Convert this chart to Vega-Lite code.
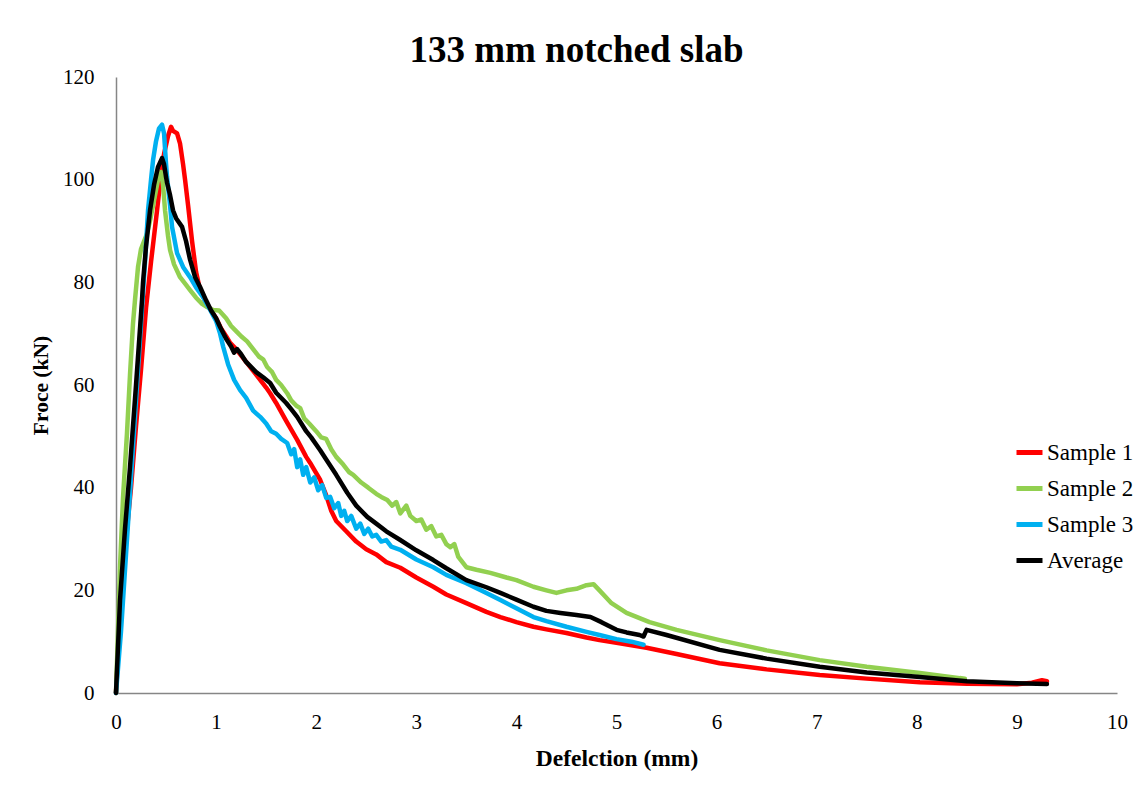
{
  "$schema": "https://vega.github.io/schema/vega-lite/v6.json",
  "width": 1001,
  "height": 616,
  "autosize": {"type": "none"},
  "padding": {"left": 116, "top": 77, "right": 25, "bottom": 98},
  "background": "white",
  "title": {
    "text": "133 mm notched slab",
    "font": "Liberation Serif",
    "fontSize": 37,
    "fontWeight": "bold",
    "color": "black",
    "anchor": "middle",
    "frame": "group",
    "dx": -40,
    "offset": -4
  },
  "config": {
    "view": {"stroke": null},
    "axis": {
      "labelFont": "Liberation Serif",
      "labelFontSize": 21,
      "labelColor": "black",
      "labelFlush": false,
      "titleFont": "Liberation Serif",
      "titleFontSize": 21.5,
      "titleFontWeight": "bold",
      "titleColor": "black",
      "ticks": false,
      "grid": false,
      "domainColor": "#868686",
      "domainWidth": 1.5
    },
    "legend": {
      "labelFont": "Liberation Serif",
      "labelFontSize": 23,
      "labelColor": "black"
    }
  },
  "datasets": {
    "curves": [
      {"series": "Sample 1", "d": 0, "f": 0},
      {"series": "Sample 1", "d": 0.04, "f": 14},
      {"series": "Sample 1", "d": 0.1, "f": 30},
      {"series": "Sample 1", "d": 0.15, "f": 40},
      {"series": "Sample 1", "d": 0.2, "f": 52},
      {"series": "Sample 1", "d": 0.25, "f": 63},
      {"series": "Sample 1", "d": 0.3, "f": 75},
      {"series": "Sample 1", "d": 0.35, "f": 84},
      {"series": "Sample 1", "d": 0.41, "f": 94},
      {"series": "Sample 1", "d": 0.45, "f": 101},
      {"series": "Sample 1", "d": 0.48, "f": 105},
      {"series": "Sample 1", "d": 0.52, "f": 108.5},
      {"series": "Sample 1", "d": 0.55, "f": 110.3},
      {"series": "Sample 1", "d": 0.57, "f": 109.5},
      {"series": "Sample 1", "d": 0.61, "f": 109},
      {"series": "Sample 1", "d": 0.64, "f": 107},
      {"series": "Sample 1", "d": 0.67, "f": 103},
      {"series": "Sample 1", "d": 0.69, "f": 100},
      {"series": "Sample 1", "d": 0.72, "f": 95},
      {"series": "Sample 1", "d": 0.76, "f": 88},
      {"series": "Sample 1", "d": 0.8, "f": 82},
      {"series": "Sample 1", "d": 0.84, "f": 78.5},
      {"series": "Sample 1", "d": 0.9, "f": 76},
      {"series": "Sample 1", "d": 0.95, "f": 74.5},
      {"series": "Sample 1", "d": 1.0, "f": 73},
      {"series": "Sample 1", "d": 1.05, "f": 71},
      {"series": "Sample 1", "d": 1.1, "f": 69.5},
      {"series": "Sample 1", "d": 1.14, "f": 68.2},
      {"series": "Sample 1", "d": 1.2, "f": 67},
      {"series": "Sample 1", "d": 1.3, "f": 64.5},
      {"series": "Sample 1", "d": 1.4, "f": 62},
      {"series": "Sample 1", "d": 1.5, "f": 59.5},
      {"series": "Sample 1", "d": 1.54, "f": 58.4},
      {"series": "Sample 1", "d": 1.6, "f": 56.5},
      {"series": "Sample 1", "d": 1.7, "f": 53},
      {"series": "Sample 1", "d": 1.81, "f": 49.3},
      {"series": "Sample 1", "d": 1.9, "f": 46},
      {"series": "Sample 1", "d": 1.95, "f": 44.5},
      {"series": "Sample 1", "d": 2.04, "f": 41.5},
      {"series": "Sample 1", "d": 2.1, "f": 38.5},
      {"series": "Sample 1", "d": 2.15, "f": 35.5},
      {"series": "Sample 1", "d": 2.2, "f": 33.5},
      {"series": "Sample 1", "d": 2.3, "f": 31.5},
      {"series": "Sample 1", "d": 2.4, "f": 29.5},
      {"series": "Sample 1", "d": 2.5, "f": 28},
      {"series": "Sample 1", "d": 2.6, "f": 27},
      {"series": "Sample 1", "d": 2.7, "f": 25.5},
      {"series": "Sample 1", "d": 2.84, "f": 24.4},
      {"series": "Sample 1", "d": 3.0, "f": 22.5},
      {"series": "Sample 1", "d": 3.17, "f": 20.7},
      {"series": "Sample 1", "d": 3.3, "f": 19.2},
      {"series": "Sample 1", "d": 3.5, "f": 17.5},
      {"series": "Sample 1", "d": 3.7, "f": 15.8},
      {"series": "Sample 1", "d": 3.84, "f": 14.8},
      {"series": "Sample 1", "d": 4.0, "f": 13.8},
      {"series": "Sample 1", "d": 4.17, "f": 12.9},
      {"series": "Sample 1", "d": 4.3, "f": 12.4},
      {"series": "Sample 1", "d": 4.5, "f": 11.7},
      {"series": "Sample 1", "d": 4.7, "f": 10.8},
      {"series": "Sample 1", "d": 4.83, "f": 10.3},
      {"series": "Sample 1", "d": 5.03, "f": 9.7},
      {"series": "Sample 1", "d": 5.3, "f": 8.8},
      {"series": "Sample 1", "d": 5.6, "f": 7.6},
      {"series": "Sample 1", "d": 6.03, "f": 5.8},
      {"series": "Sample 1", "d": 6.5, "f": 4.6},
      {"series": "Sample 1", "d": 7.03, "f": 3.5},
      {"series": "Sample 1", "d": 7.5, "f": 2.8},
      {"series": "Sample 1", "d": 8.03, "f": 2.1},
      {"series": "Sample 1", "d": 8.5, "f": 1.8},
      {"series": "Sample 1", "d": 9.0, "f": 1.7},
      {"series": "Sample 1", "d": 9.15, "f": 2.0},
      {"series": "Sample 1", "d": 9.25, "f": 2.5},
      {"series": "Sample 1", "d": 9.3, "f": 2.3},

      {"series": "Sample 2", "d": 0, "f": 0},
      {"series": "Sample 2", "d": 0.02, "f": 12},
      {"series": "Sample 2", "d": 0.04, "f": 24.5},
      {"series": "Sample 2", "d": 0.07, "f": 38},
      {"series": "Sample 2", "d": 0.11, "f": 50.7},
      {"series": "Sample 2", "d": 0.14, "f": 62},
      {"series": "Sample 2", "d": 0.17, "f": 72},
      {"series": "Sample 2", "d": 0.19, "f": 76.6},
      {"series": "Sample 2", "d": 0.22, "f": 83},
      {"series": "Sample 2", "d": 0.25, "f": 86.5},
      {"series": "Sample 2", "d": 0.28, "f": 88},
      {"series": "Sample 2", "d": 0.31, "f": 89.5},
      {"series": "Sample 2", "d": 0.34, "f": 92},
      {"series": "Sample 2", "d": 0.38, "f": 96},
      {"series": "Sample 2", "d": 0.42, "f": 100},
      {"series": "Sample 2", "d": 0.45, "f": 101.5},
      {"series": "Sample 2", "d": 0.47, "f": 99},
      {"series": "Sample 2", "d": 0.49, "f": 94},
      {"series": "Sample 2", "d": 0.52, "f": 89},
      {"series": "Sample 2", "d": 0.54, "f": 86.3},
      {"series": "Sample 2", "d": 0.58, "f": 83.5},
      {"series": "Sample 2", "d": 0.64, "f": 81},
      {"series": "Sample 2", "d": 0.7, "f": 79.5},
      {"series": "Sample 2", "d": 0.74, "f": 78.5},
      {"series": "Sample 2", "d": 0.8, "f": 77},
      {"series": "Sample 2", "d": 0.86, "f": 75.8},
      {"series": "Sample 2", "d": 0.91, "f": 75.2},
      {"series": "Sample 2", "d": 0.97, "f": 74.6},
      {"series": "Sample 2", "d": 1.03, "f": 74.5},
      {"series": "Sample 2", "d": 1.1, "f": 73},
      {"series": "Sample 2", "d": 1.15, "f": 71.5},
      {"series": "Sample 2", "d": 1.2, "f": 70.5},
      {"series": "Sample 2", "d": 1.25, "f": 69.5},
      {"series": "Sample 2", "d": 1.31, "f": 68.5},
      {"series": "Sample 2", "d": 1.37, "f": 67},
      {"series": "Sample 2", "d": 1.43, "f": 65.5},
      {"series": "Sample 2", "d": 1.47, "f": 65},
      {"series": "Sample 2", "d": 1.51, "f": 63.5},
      {"series": "Sample 2", "d": 1.56, "f": 62.5},
      {"series": "Sample 2", "d": 1.6, "f": 61},
      {"series": "Sample 2", "d": 1.65, "f": 60},
      {"series": "Sample 2", "d": 1.71, "f": 58.4},
      {"series": "Sample 2", "d": 1.75, "f": 57},
      {"series": "Sample 2", "d": 1.8, "f": 56},
      {"series": "Sample 2", "d": 1.84, "f": 55.5},
      {"series": "Sample 2", "d": 1.88, "f": 53.5},
      {"series": "Sample 2", "d": 1.93, "f": 52.5},
      {"series": "Sample 2", "d": 2.0, "f": 51},
      {"series": "Sample 2", "d": 2.05, "f": 49.8},
      {"series": "Sample 2", "d": 2.1, "f": 49.5},
      {"series": "Sample 2", "d": 2.15, "f": 47.5},
      {"series": "Sample 2", "d": 2.2, "f": 46},
      {"series": "Sample 2", "d": 2.27, "f": 44.5},
      {"series": "Sample 2", "d": 2.33, "f": 43},
      {"series": "Sample 2", "d": 2.37, "f": 42.5},
      {"series": "Sample 2", "d": 2.45, "f": 41},
      {"series": "Sample 2", "d": 2.52, "f": 40},
      {"series": "Sample 2", "d": 2.6, "f": 38.8},
      {"series": "Sample 2", "d": 2.65, "f": 38.2},
      {"series": "Sample 2", "d": 2.71, "f": 37.6},
      {"series": "Sample 2", "d": 2.76, "f": 36.5},
      {"series": "Sample 2", "d": 2.8, "f": 37.2},
      {"series": "Sample 2", "d": 2.84, "f": 35},
      {"series": "Sample 2", "d": 2.9, "f": 36.5},
      {"series": "Sample 2", "d": 2.94, "f": 34.5},
      {"series": "Sample 2", "d": 3.0, "f": 33.5},
      {"series": "Sample 2", "d": 3.05, "f": 33.8},
      {"series": "Sample 2", "d": 3.1, "f": 31.8},
      {"series": "Sample 2", "d": 3.15, "f": 32.5},
      {"series": "Sample 2", "d": 3.2, "f": 30.5},
      {"series": "Sample 2", "d": 3.25, "f": 30.8},
      {"series": "Sample 2", "d": 3.3, "f": 29},
      {"series": "Sample 2", "d": 3.34, "f": 28.4},
      {"series": "Sample 2", "d": 3.38, "f": 29},
      {"series": "Sample 2", "d": 3.42, "f": 26.5},
      {"series": "Sample 2", "d": 3.5, "f": 24.5},
      {"series": "Sample 2", "d": 3.6, "f": 24},
      {"series": "Sample 2", "d": 3.74, "f": 23.4},
      {"series": "Sample 2", "d": 3.9, "f": 22.5},
      {"series": "Sample 2", "d": 4.0, "f": 22},
      {"series": "Sample 2", "d": 4.17, "f": 20.7},
      {"series": "Sample 2", "d": 4.3, "f": 20},
      {"series": "Sample 2", "d": 4.4, "f": 19.5},
      {"series": "Sample 2", "d": 4.5, "f": 20},
      {"series": "Sample 2", "d": 4.6, "f": 20.3},
      {"series": "Sample 2", "d": 4.7, "f": 21},
      {"series": "Sample 2", "d": 4.77, "f": 21.2},
      {"series": "Sample 2", "d": 4.83, "f": 20},
      {"series": "Sample 2", "d": 4.95, "f": 17.5},
      {"series": "Sample 2", "d": 5.1, "f": 15.6},
      {"series": "Sample 2", "d": 5.33, "f": 13.8},
      {"series": "Sample 2", "d": 5.6, "f": 12.3},
      {"series": "Sample 2", "d": 6.03, "f": 10.3},
      {"series": "Sample 2", "d": 6.5, "f": 8.3},
      {"series": "Sample 2", "d": 7.03, "f": 6.4},
      {"series": "Sample 2", "d": 7.5, "f": 5.1},
      {"series": "Sample 2", "d": 8.03, "f": 3.9},
      {"series": "Sample 2", "d": 8.43, "f": 2.9},
      {"series": "Sample 2", "d": 8.48, "f": 2.8},

      {"series": "Sample 3", "d": 0, "f": 0},
      {"series": "Sample 3", "d": 0.05, "f": 12},
      {"series": "Sample 3", "d": 0.1, "f": 27},
      {"series": "Sample 3", "d": 0.15, "f": 42},
      {"series": "Sample 3", "d": 0.2, "f": 57},
      {"series": "Sample 3", "d": 0.25, "f": 72},
      {"series": "Sample 3", "d": 0.29, "f": 84},
      {"series": "Sample 3", "d": 0.32, "f": 94},
      {"series": "Sample 3", "d": 0.35, "f": 100},
      {"series": "Sample 3", "d": 0.37, "f": 103.8},
      {"series": "Sample 3", "d": 0.4, "f": 107.5},
      {"series": "Sample 3", "d": 0.43, "f": 110},
      {"series": "Sample 3", "d": 0.46, "f": 110.7},
      {"series": "Sample 3", "d": 0.48, "f": 109},
      {"series": "Sample 3", "d": 0.5, "f": 103},
      {"series": "Sample 3", "d": 0.51, "f": 100.5},
      {"series": "Sample 3", "d": 0.54, "f": 95},
      {"series": "Sample 3", "d": 0.56, "f": 90.8},
      {"series": "Sample 3", "d": 0.61, "f": 85.7},
      {"series": "Sample 3", "d": 0.67, "f": 83},
      {"series": "Sample 3", "d": 0.74, "f": 81},
      {"series": "Sample 3", "d": 0.8, "f": 79},
      {"series": "Sample 3", "d": 0.87, "f": 77.1},
      {"series": "Sample 3", "d": 0.93, "f": 75},
      {"series": "Sample 3", "d": 1.0, "f": 72.5},
      {"series": "Sample 3", "d": 1.04, "f": 70},
      {"series": "Sample 3", "d": 1.07, "f": 67.5},
      {"series": "Sample 3", "d": 1.12, "f": 64},
      {"series": "Sample 3", "d": 1.18, "f": 61},
      {"series": "Sample 3", "d": 1.24, "f": 59},
      {"series": "Sample 3", "d": 1.3, "f": 57.5},
      {"series": "Sample 3", "d": 1.37, "f": 55},
      {"series": "Sample 3", "d": 1.44, "f": 53.8},
      {"series": "Sample 3", "d": 1.5, "f": 52.5},
      {"series": "Sample 3", "d": 1.55, "f": 51},
      {"series": "Sample 3", "d": 1.6, "f": 50.5},
      {"series": "Sample 3", "d": 1.65, "f": 49.5},
      {"series": "Sample 3", "d": 1.71, "f": 48.7},
      {"series": "Sample 3", "d": 1.75, "f": 46.5},
      {"series": "Sample 3", "d": 1.78, "f": 47.5},
      {"series": "Sample 3", "d": 1.81, "f": 44},
      {"series": "Sample 3", "d": 1.84, "f": 45.5},
      {"series": "Sample 3", "d": 1.87, "f": 42.5},
      {"series": "Sample 3", "d": 1.9, "f": 44},
      {"series": "Sample 3", "d": 1.94, "f": 41},
      {"series": "Sample 3", "d": 1.98, "f": 42},
      {"series": "Sample 3", "d": 2.02, "f": 39.5},
      {"series": "Sample 3", "d": 2.06, "f": 40.5},
      {"series": "Sample 3", "d": 2.1, "f": 38},
      {"series": "Sample 3", "d": 2.14, "f": 38.2},
      {"series": "Sample 3", "d": 2.18, "f": 36},
      {"series": "Sample 3", "d": 2.22, "f": 37},
      {"series": "Sample 3", "d": 2.25, "f": 34.5},
      {"series": "Sample 3", "d": 2.28, "f": 35.5},
      {"series": "Sample 3", "d": 2.31, "f": 33.5},
      {"series": "Sample 3", "d": 2.35, "f": 34.5},
      {"series": "Sample 3", "d": 2.4, "f": 32},
      {"series": "Sample 3", "d": 2.44, "f": 33},
      {"series": "Sample 3", "d": 2.48, "f": 31},
      {"series": "Sample 3", "d": 2.52, "f": 32},
      {"series": "Sample 3", "d": 2.56, "f": 30.5},
      {"series": "Sample 3", "d": 2.6, "f": 30.8},
      {"series": "Sample 3", "d": 2.65, "f": 29.5},
      {"series": "Sample 3", "d": 2.7, "f": 29.8},
      {"series": "Sample 3", "d": 2.75, "f": 28.5},
      {"series": "Sample 3", "d": 2.84, "f": 27.9},
      {"series": "Sample 3", "d": 3.0, "f": 26},
      {"series": "Sample 3", "d": 3.17, "f": 24.5},
      {"series": "Sample 3", "d": 3.3, "f": 23},
      {"series": "Sample 3", "d": 3.5, "f": 21.4},
      {"series": "Sample 3", "d": 3.7, "f": 19.5},
      {"series": "Sample 3", "d": 3.84, "f": 18.1},
      {"series": "Sample 3", "d": 4.0, "f": 16.5},
      {"series": "Sample 3", "d": 4.17, "f": 14.8},
      {"series": "Sample 3", "d": 4.3, "f": 14},
      {"series": "Sample 3", "d": 4.5, "f": 12.9},
      {"series": "Sample 3", "d": 4.7, "f": 11.9},
      {"series": "Sample 3", "d": 4.83, "f": 11.3},
      {"series": "Sample 3", "d": 5.0, "f": 10.5},
      {"series": "Sample 3", "d": 5.15, "f": 10},
      {"series": "Sample 3", "d": 5.27, "f": 9.4},

      {"series": "Average", "d": 0, "f": 0},
      {"series": "Average", "d": 0.04, "f": 18},
      {"series": "Average", "d": 0.09, "f": 32},
      {"series": "Average", "d": 0.14, "f": 44},
      {"series": "Average", "d": 0.2, "f": 60},
      {"series": "Average", "d": 0.26, "f": 76.6},
      {"series": "Average", "d": 0.27, "f": 80},
      {"series": "Average", "d": 0.3, "f": 87},
      {"series": "Average", "d": 0.34, "f": 94},
      {"series": "Average", "d": 0.38, "f": 99},
      {"series": "Average", "d": 0.42, "f": 102.5},
      {"series": "Average", "d": 0.46, "f": 104.2},
      {"series": "Average", "d": 0.48, "f": 103},
      {"series": "Average", "d": 0.5, "f": 100.5},
      {"series": "Average", "d": 0.51, "f": 99.4},
      {"series": "Average", "d": 0.54, "f": 97},
      {"series": "Average", "d": 0.57, "f": 94},
      {"series": "Average", "d": 0.6, "f": 92.5},
      {"series": "Average", "d": 0.66, "f": 90.8},
      {"series": "Average", "d": 0.7, "f": 88},
      {"series": "Average", "d": 0.74, "f": 84.4},
      {"series": "Average", "d": 0.79, "f": 81},
      {"series": "Average", "d": 0.84, "f": 79.1},
      {"series": "Average", "d": 0.9, "f": 76.5},
      {"series": "Average", "d": 0.95, "f": 74.5},
      {"series": "Average", "d": 1.0, "f": 73},
      {"series": "Average", "d": 1.04, "f": 71.3},
      {"series": "Average", "d": 1.1, "f": 69},
      {"series": "Average", "d": 1.15, "f": 67.5},
      {"series": "Average", "d": 1.18, "f": 66.3},
      {"series": "Average", "d": 1.21, "f": 67},
      {"series": "Average", "d": 1.25, "f": 66},
      {"series": "Average", "d": 1.3, "f": 64.5},
      {"series": "Average", "d": 1.4, "f": 62.5},
      {"series": "Average", "d": 1.47, "f": 61.5},
      {"series": "Average", "d": 1.54, "f": 60.4},
      {"series": "Average", "d": 1.6, "f": 58.5},
      {"series": "Average", "d": 1.7, "f": 56.5},
      {"series": "Average", "d": 1.75, "f": 55.3},
      {"series": "Average", "d": 1.81, "f": 53.8},
      {"series": "Average", "d": 1.9, "f": 51},
      {"series": "Average", "d": 1.95, "f": 49.8},
      {"series": "Average", "d": 2.04, "f": 47.3},
      {"series": "Average", "d": 2.1, "f": 45.5},
      {"series": "Average", "d": 2.2, "f": 42.5},
      {"series": "Average", "d": 2.31, "f": 39},
      {"series": "Average", "d": 2.4, "f": 36.5},
      {"series": "Average", "d": 2.51, "f": 34.3},
      {"series": "Average", "d": 2.6, "f": 33},
      {"series": "Average", "d": 2.7, "f": 31.5},
      {"series": "Average", "d": 2.84, "f": 29.8},
      {"series": "Average", "d": 3.0, "f": 27.8},
      {"series": "Average", "d": 3.17, "f": 25.9},
      {"series": "Average", "d": 3.3, "f": 24.3},
      {"series": "Average", "d": 3.5, "f": 22},
      {"series": "Average", "d": 3.7, "f": 20.6},
      {"series": "Average", "d": 3.84, "f": 19.5},
      {"series": "Average", "d": 4.0, "f": 18.2},
      {"series": "Average", "d": 4.17, "f": 16.8},
      {"series": "Average", "d": 4.3, "f": 16},
      {"series": "Average", "d": 4.44, "f": 15.6},
      {"series": "Average", "d": 4.6, "f": 15.2},
      {"series": "Average", "d": 4.74, "f": 14.8},
      {"series": "Average", "d": 4.85, "f": 13.8},
      {"series": "Average", "d": 5.0, "f": 12.3},
      {"series": "Average", "d": 5.1, "f": 11.8},
      {"series": "Average", "d": 5.23, "f": 11.3},
      {"series": "Average", "d": 5.27, "f": 11},
      {"series": "Average", "d": 5.3, "f": 12.3},
      {"series": "Average", "d": 5.5, "f": 11.3},
      {"series": "Average", "d": 6.03, "f": 8.4},
      {"series": "Average", "d": 6.5, "f": 6.7},
      {"series": "Average", "d": 7.03, "f": 5.1},
      {"series": "Average", "d": 7.5, "f": 4},
      {"series": "Average", "d": 8.03, "f": 3.1},
      {"series": "Average", "d": 8.5, "f": 2.3},
      {"series": "Average", "d": 9.0, "f": 1.9},
      {"series": "Average", "d": 9.3, "f": 1.75}
    ]
  },
  "data": {"name": "curves"},
  "mark": {"type": "line", "strokeWidth": 4.5, "strokeJoin": "round", "strokeCap": "round"},
  "encoding": {
    "x": {
      "field": "d",
      "type": "quantitative",
      "scale": {"domain": [0, 10], "nice": false},
      "axis": {"values": [0, 1, 2, 3, 4, 5, 6, 7, 8, 9, 10], "title": "Defelction (mm)", "titleFontSize": 23.5, "labelPadding": 18, "titlePadding": 14}
    },
    "y": {
      "field": "f",
      "type": "quantitative",
      "scale": {"domain": [0, 120], "nice": false},
      "axis": {"values": [0, 20, 40, 60, 80, 100, 120], "title": "Froce (kN)", "labelPadding": 22, "titlePadding": 10}
    },
    "color": {
      "field": "series",
      "type": "nominal",
      "scale": {
        "domain": ["Sample 1", "Sample 2", "Sample 3", "Average"],
        "range": ["#FF0000", "#92D050", "#00B0F0", "#000000"]
      },
      "legend": {
        "title": null,
        "orient": "none",
        "legendX": 898,
        "legendY": 360,
        "symbolType": "stroke",
        "symbolSize": 676,
        "symbolStrokeWidth": 5,
        "labelOffset": 2,
        "rowPadding": 8,
        "padding": 0
      }
    },
    "order": {"field": "d", "type": "quantitative"}
  }
}
